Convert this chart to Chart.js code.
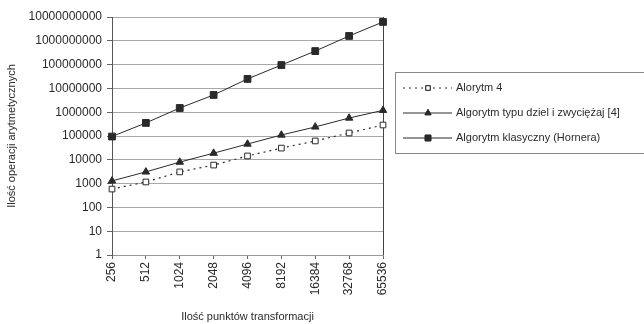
<!DOCTYPE html>
<html>
<head>
<meta charset="utf-8">
<script src="https://cdn.jsdelivr.net/npm/chart.js@4.4.1/dist/chart.umd.min.js"></script>
<style>
  html, body { margin: 0; padding: 0; background: #fff; }
  #wrap { width: 644px; height: 324px; position: relative; }
</style>
</head>
<body>
<div id="wrap"><canvas id="chart" width="644" height="324"></canvas></div>
<script>
// values (log scale)
var points = ["256", "512", "1024", "2048", "4096", "8192", "16384", "32768", "65536"];
var alg4 = [590, 1170, 3100, 6000, 14500, 31000, 62000, 134000, 290000];
var dziel = [1300, 3100, 8000, 19000, 46000, 110000, 240000, 570000, 1200000];
var horner = [95000, 354000, 1500000, 5300000, 25000000, 96000000, 370000000, 1600000000, 6200000000];
var yTicks = [1, 10, 100, 1000, 10000, 100000, 1000000, 10000000, 100000000, 1000000000, 10000000000];

var seriesNames = ["Alorytm 4", "Algorytm typu dziel i zwyciężaj [4]", "Algorytm klasyczny (Hornera)"];
var FONT = "'Liberation Sans', Arial, sans-serif";
var INK = "#2a2a2a";

// boxed legend on the right, like the original
var boxLegend = {
  id: 'boxLegend',
  afterDraw: function (chart) {
    var ctx = chart.ctx;
    ctx.save();
    ctx.strokeStyle = '#888';
    ctx.lineWidth = 1;
    ctx.strokeRect(395.5, 72.5, 250, 81);
    var rowY = [88, 113, 138];
    chart.data.datasets.forEach(function (ds, i) {
      var y = rowY[i];
      ctx.strokeStyle = ds.borderColor;
      ctx.lineWidth = 1;
      ctx.setLineDash(ds.borderDash || []);
      ctx.beginPath();
      ctx.moveTo(403, y);
      ctx.lineTo(452, y);
      ctx.stroke();
      ctx.setLineDash([]);
      Chart.helpers.drawPoint(ctx, {
        pointStyle: ds.pointStyle,
        radius: ds.pointRadius - 0.8,
        borderWidth: 1
      }, 428, y);
      ctx.fillStyle = ds.pointBackgroundColor;
      ctx.fill();
      ctx.strokeStyle = ds.pointBorderColor;
      ctx.stroke();
      ctx.fillStyle = INK;
      ctx.font = '11px ' + FONT;
      ctx.textBaseline = 'middle';
      ctx.fillText(ds.label, 456, y);
    });
    ctx.restore();
  }
};

new Chart(document.getElementById("chart"), {
  type: 'line',
  data: {
    labels: points,
    datasets: [
      {
        label: seriesNames[0],
        data: alg4,
        borderColor: INK,
        borderWidth: 1.2,
        borderDash: [2, 4],
        pointStyle: 'rect',
        pointRadius: 4,
        pointBackgroundColor: '#fff',
        pointBorderColor: INK,
        pointBorderWidth: 1
      },
      {
        label: seriesNames[1],
        data: dziel,
        borderColor: INK,
        borderWidth: 1,
        pointStyle: 'triangle',
        pointRadius: 4.3,
        pointBackgroundColor: INK,
        pointBorderColor: INK,
        pointBorderWidth: 1
      },
      {
        label: seriesNames[2],
        data: horner,
        borderColor: INK,
        borderWidth: 1,
        pointStyle: 'rect',
        pointRadius: 4.8,
        pointBackgroundColor: INK,
        pointBorderColor: INK,
        pointBorderWidth: 1
      }
    ]
  },
  options: {
    responsive: false,
    animation: false,
    layout: { padding: { left: 0, right: 261, top: 17, bottom: 0 } },
    plugins: {
      legend: { display: false },
      tooltip: { enabled: false }
    },
    scales: {
      x: {
        type: 'category',
        offset: false,
        afterFit: function (scale) { scale.height = 69; },
        border: { display: true, color: '#999' },
        grid: {
          drawOnChartArea: true,
          tickLength: 4,
          tickColor: '#666',
          color: function (c) { return c.index === points.length - 1 ? '#444' : 'rgba(0,0,0,0)'; }
        },
        ticks: {
          minRotation: 90,
          maxRotation: 90,
          autoSkip: false,
          padding: 3,
          color: INK,
          font: { family: FONT, size: 12 }
        },
        title: {
          display: true,
          text: 'Ilość punktów transformacji',
          color: INK,
          padding: { top: 0, bottom: 0 },
          font: { family: FONT, size: 11 }
        }
      },
      y: {
        type: 'logarithmic',
        min: 1,
        max: 10000000000,
        afterFit: function (scale) { scale.width = 112; },
        afterBuildTicks: function (scale) {
          scale.ticks = yTicks.map(function (v) { return { value: v }; });
        },
        border: { display: true, color: '#555' },
        grid: {
          color: '#a8a8a8',
          tickLength: 5,
          tickColor: '#666'
        },
        ticks: {
          padding: 5,
          color: INK,
          font: { family: FONT, size: 12 },
          callback: function (v) { return String(v); }
        },
        title: {
          display: true,
          text: 'Ilość operacji arytmetycznych',
          color: INK,
          padding: { top: 5, bottom: 0 },
          font: { family: FONT, size: 11 }
        }
      }
    }
  },
  plugins: [boxLegend]
});
</script>
</body>
</html>
